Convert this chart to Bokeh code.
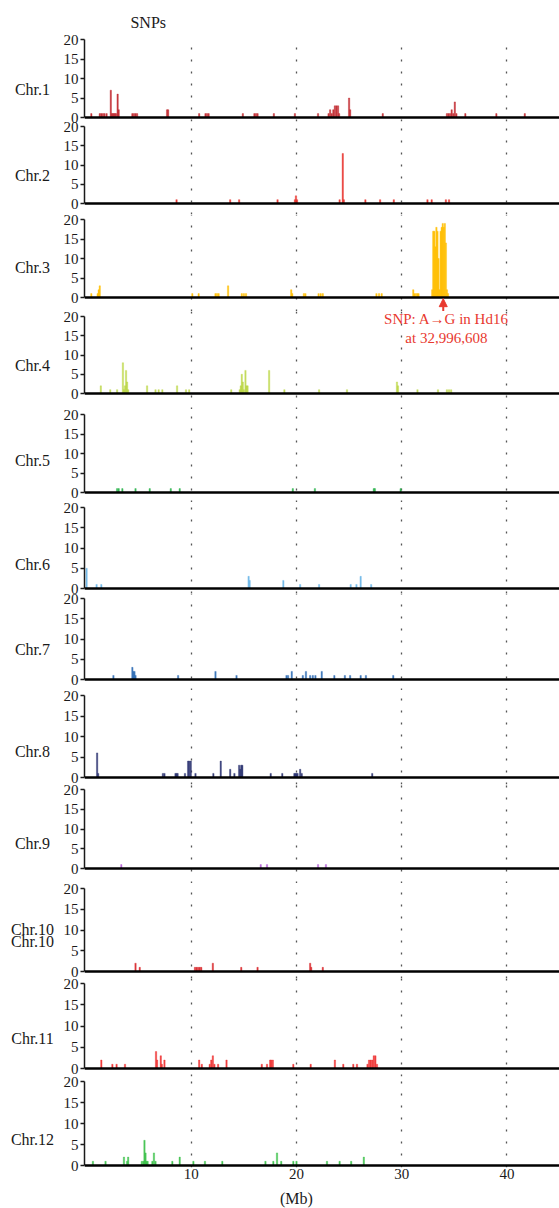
from bokeh.plotting import figure
from bokeh.layouts import column, row
from bokeh.models import Range1d, Span, Label, FixedTicker, Arrow, NormalHead, Grid, LinearAxis
from bokeh.embed import file_html
from bokeh.resources import INLINE

FONT = "Liberation Serif"

# ---------------- data (position in Mb, SNP count) ----------------
chr_names = ["Chr.1", "Chr.2", "Chr.3", "Chr.4", "Chr.5", "Chr.6",
             "Chr.7", "Chr.8", "Chr.9", "Chr.10", "Chr.11", "Chr.12"]

chr1_pos = [0.5, 1.3, 1.45, 1.6, 1.75, 1.95, 2.35, 2.45, 2.55, 2.65, 2.75, 2.85, 3.0, 3.1,
            4.4, 4.55, 4.7, 4.85, 7.7, 7.8, 10.75, 11.35, 11.5, 11.65, 14.9, 16.0, 16.15,
            16.3, 17.85, 19.85, 22.05, 23.05, 23.2, 23.35, 23.5, 23.65, 23.8, 23.95, 24.05,
            25.0, 25.1, 28.2, 34.3, 34.45, 34.6, 34.75, 34.9, 35.05, 35.2, 36.05, 39.0, 41.7]
chr1_snps = [1, 1, 1, 1, 1, 1, 7, 1, 1, 1, 1, 1, 6, 2,
             1, 1, 1, 1, 2, 2, 1, 1, 1, 1, 1, 1, 1,
             1, 1, 1, 1, 1, 2, 1, 2, 3, 3, 3, 1,
             5, 2, 1, 1, 1, 1, 2, 1, 4, 1, 1, 1, 1]

chr2_pos = [8.6, 13.7, 14.55, 18.2, 19.85, 19.95, 20.05, 24.1, 24.4, 24.5, 26.55, 27.95,
            29.25, 32.45, 32.85, 34.2, 34.5]
chr2_snps = [1, 1, 1, 1, 1, 2, 1, 1, 13, 1, 1, 1, 1, 1, 1, 1, 1]

chr3_pos = [0.5, 1.1, 1.2, 1.3, 10.1, 10.7, 12.3, 12.45, 12.6, 13.5, 14.8, 15.0, 15.2,
            19.5, 19.6, 20.7, 20.85, 22.1, 22.3, 22.5, 27.6, 27.85, 28.1, 31.1, 31.2,
            31.35, 31.5, 31.6,
            32.9, 33.0, 33.1, 33.2, 33.3, 33.4, 33.5, 33.6, 33.7, 33.8, 33.9, 34.0, 34.1,
            34.2, 34.3, 34.4]
chr3_snps = [1, 1, 2, 3, 1, 1, 1, 1, 1, 3, 1, 1, 1,
             2, 1, 1, 1, 1, 1, 1, 1, 1, 1, 2, 1,
             1, 1, 1,
             2, 17, 17, 13, 18, 17, 10, 2, 17, 18, 19, 18, 19,
             14, 2, 1]

chr4_pos = [1.4, 2.3, 2.95, 3.5, 3.6, 3.7, 3.8, 3.9, 4.0, 5.8, 6.6, 6.9, 7.25, 8.65, 9.5,
            9.8, 13.8, 14.6, 14.7, 14.8, 14.9, 15.0, 15.15, 15.25, 15.35, 17.4, 18.85,
            22.15, 24.8, 29.55, 29.65, 31.5, 33.45, 34.3, 34.5, 34.7]
chr4_snps = [2, 1, 1, 8, 1, 2, 6, 3, 1, 2, 1, 1, 1, 2, 1,
             1, 1, 1, 2, 5, 3, 1, 6, 2, 2, 6, 1,
             1, 1, 3, 2, 1, 1, 1, 1, 1]

chr5_pos = [2.95, 3.1, 3.45, 4.7, 6.05, 8.05, 8.9, 19.65, 21.75, 27.35, 27.45, 29.9]
chr5_snps = [1, 1, 1, 1, 1, 1, 1, 1, 1, 1, 1, 1]

chr6_pos = [0.05, 1.0, 1.45, 15.45, 15.55, 18.75, 20.35, 22.15, 25.15, 25.7, 26.1, 27.1]
chr6_snps = [5, 1, 1, 3, 2, 2, 1, 1, 1, 1, 3, 1]

chr7_pos = [2.6, 4.4, 4.5, 4.6, 4.7, 8.75, 12.3, 14.3, 19.05, 19.2, 19.55, 20.6, 20.9,
            21.3, 21.55, 21.8, 22.4, 23.6, 24.6, 25.1, 26.1, 26.6, 29.2]
chr7_snps = [1, 3, 2, 2, 1, 1, 2, 1, 1, 1, 2, 1, 2,
             1, 1, 1, 2, 1, 1, 1, 1, 1, 1]

chr8_pos = [1.05, 1.15, 7.3, 7.45, 8.5, 8.6, 8.7, 9.4, 9.7, 9.8, 9.95, 10.4, 12.1, 12.8,
            13.7, 14.1, 14.55, 14.65, 14.75, 14.85, 17.55, 18.65, 19.8, 19.9, 20.0, 20.1,
            20.35, 20.5, 27.2]
chr8_snps = [6, 1, 1, 1, 1, 1, 1, 1, 4, 4, 4, 1, 1, 4,
             2, 1, 3, 2, 3, 3, 1, 1, 1, 1, 1, 1,
             2, 1, 1]

chr9_pos = [3.35, 16.6, 17.2, 22.05, 22.8]
chr9_snps = [1, 1, 1, 1, 1]

chr10_pos = [4.7, 5.1, 10.35, 10.5, 10.65, 10.8, 10.95, 12.05, 14.75, 16.3, 21.3, 21.4, 22.5]
chr10_snps = [2, 1, 1, 1, 1, 1, 1, 2, 1, 1, 2, 1, 1]

chr11_pos = [1.45, 2.5, 2.9, 3.7, 6.65, 6.75, 7.1, 7.2, 7.45, 10.75, 11.0, 11.75, 11.9,
             12.05, 12.2, 12.55, 13.35, 16.7, 17.2, 17.5, 17.6, 17.75, 19.7, 21.35, 23.65,
             24.45, 25.4, 25.75, 26.75, 26.9, 27.05, 27.2, 27.35, 27.5, 27.65]
chr11_snps = [2, 1, 1, 1, 4, 2, 3, 1, 2, 2, 1, 1, 2,
              3, 1, 1, 2, 1, 1, 2, 2, 2, 1, 1, 2,
              1, 1, 1, 1, 2, 2, 2, 3, 3, 1]

chr12_pos = [0.65, 1.85, 3.6, 3.9, 4.0, 5.3, 5.45, 5.55, 5.65, 5.75, 5.85, 6.3, 6.45, 6.6,
             8.2, 8.9, 10.2, 11.3, 12.95, 17.05, 17.8, 18.15, 18.55, 19.7, 20.0, 22.9,
             24.1, 25.2, 26.4]
chr12_snps = [1, 1, 2, 1, 2, 1, 1, 6, 3, 1, 1, 1, 3, 1,
              1, 2, 1, 1, 1, 1, 1, 3, 1, 1, 1, 1,
              1, 1, 2]

positions = [chr1_pos, chr2_pos, chr3_pos, chr4_pos, chr5_pos, chr6_pos,
             chr7_pos, chr8_pos, chr9_pos, chr10_pos, chr11_pos, chr12_pos]
counts = [chr1_snps, chr2_snps, chr3_snps, chr4_snps, chr5_snps, chr6_snps,
          chr7_snps, chr8_snps, chr9_snps, chr10_snps, chr11_snps, chr12_snps]

colors = ["#c1272d", "#e8302a", "#ffbf00", "#b5d334", "#2bb24c", "#6cb7e8",
          "#2f6db5", "#2b3270", "#b45fd6", "#d9262b", "#ee2d2d", "#3cc14a"]

y_ticks = [0, 5, 10, 15, 20]
x_ticks = [10, 20, 30, 40]
y_label = "SNPs"
x_label = "(Mb)"
snp_annot_lines = ["SNP: A\u2192G in Hd16", "at 32,996,608"]
annot_x = 33.95          # arrow position (Mb), as drawn
annot_text_x = 34.25
annot_text_y = [19.3, 14.4]

# ---------------- layout constants (pixels) ----------------
W = 559
LAB_W = 56               # column holding the "Chr.N" names
LEFT = 84                # frame left edge on the page
HEAD_H = 33
FOOT_H = 18
PAD = 10                 # room kept above/below a panel for its tick labels
X_START, X_END = -0.15, 45.0
panel_top = [39, 126, 219, 316, 414, 507, 598, 695, 789, 888, 983, 1081]
panel_base = [117, 203, 297, 393, 492, 588, 679, 777, 868, 971, 1068, 1165]
chr_label_y = [7.1, 7.35, 7.7, 7.35, 8.2, 5.9, 7.5, 6.4, 6.3, 10.1, 7.0, 6.1]
chr10_dup_y = 7.3
ARROW_PX = 14

RED = "#e8392f"
INK = "#1a1a1a"


def blank(width, height, xr, yr, **kw):
    f = figure(width=width, height=height, x_range=xr, y_range=yr, title=None,
               x_axis_location=None, y_axis_location=None,
               toolbar_location=None, output_backend="svg",
               outline_line_color=None, background_fill_color=None,
               border_fill_color=None, **kw)
    f.grid.visible = False
    return f


def text_label(x, y, t, color=INK, size="16px", align="center"):
    return Label(x=x, y=y, text=t, text_align=align, text_baseline="middle",
                 text_font=FONT, text_font_size=size, text_color=color)


# header with the y-axis title
head = blank(W, HEAD_H, Range1d(0, W), Range1d(0, HEAD_H),
             min_border_left=0, min_border_right=0, min_border_top=0, min_border_bottom=0)
head.add_layout(text_label(75, HEAD_H - 21.5, y_label))

rows = [head]
x_range = Range1d(X_START, X_END)
n = len(chr_names)
prev_bot = HEAD_H
for i in range(n):
    top, base = panel_top[i], panel_base[i]
    ppu = (base - top) / 20.0
    fig_top = top - PAD
    frame_top = top if i == 0 else top - 5
    if i < n - 1:
        frame_bot = panel_top[i + 1] - 5
        fig_bot = max(base + PAD, frame_bot)
    else:
        frame_bot = base + 2
        fig_bot = 1208 - FOOT_H
    y0 = -(frame_bot - base) / ppu
    y1 = 20 + (top - frame_top) / ppu
    bt = frame_top - fig_top
    bb = fig_bot - frame_bot
    h = fig_bot - fig_top

    p = figure(width=W - LAB_W, height=h, x_range=x_range,
               y_range=Range1d(y0, y1), title=None,
               x_axis_location=None, y_axis_location="left",
               toolbar_location=None, output_backend="svg",
               min_border_left=LEFT - LAB_W, min_border_right=0,
               min_border_top=bt, min_border_bottom=bb,
               outline_line_color=None, background_fill_color=None,
               border_fill_color=None)
    p.grid.visible = False
    g = Grid(dimension=0, ticker=FixedTicker(ticks=x_ticks),
             grid_line_color="#555555", grid_line_width=1.3, grid_line_dash="2 10")
    p.add_layout(g, "center")

    ya = p.yaxis[0]
    ya.ticker = FixedTicker(ticks=y_ticks)
    ya.bounds = (0, 20)
    ya.axis_line_width = 1.5
    ya.axis_line_color = INK
    ya.major_tick_line_width = 1.5
    ya.major_tick_line_color = INK
    ya.major_tick_in = 0
    ya.major_tick_out = 4
    ya.minor_tick_line_color = None
    ya.major_label_standoff = 2
    ya.major_label_text_font = FONT
    ya.major_label_text_font_size = "15px"
    ya.major_label_text_color = INK

    p.vbar(x=positions[i], top=counts[i], bottom=0, width=0.13,
           fill_color=colors[i], line_color=colors[i], line_width=0.4,
           fill_alpha=0.9 if i != 3 else 0.75, line_alpha=0.9 if i != 3 else 0.75)

    p.add_layout(Span(location=0, dimension="width", line_color="black", line_width=2.5))

    if i == 2:
        p.add_layout(Arrow(end=NormalHead(size=8, fill_color=RED, line_color=RED),
                           x_start=annot_x, y_start=-ARROW_PX / ppu, x_end=annot_x, y_end=-0.3,
                           line_color=RED, line_width=2))
    if i == 3:
        for t, yy in zip(snp_annot_lines, annot_text_y):
            p.add_layout(text_label(annot_text_x, yy, t, color=RED, size="15px"))
    if i == n - 1:
        xa = LinearAxis(ticker=FixedTicker(ticks=x_ticks), axis_line_color=None,
                        major_tick_line_color=None, minor_tick_line_color=None,
                        major_tick_in=0, major_tick_out=0,
                        major_label_standoff=1, major_label_text_font=FONT,
                        major_label_text_font_size="15px", major_label_text_color=INK)
        p.add_layout(xa, "below")

    # chromosome name column
    lab = blank(LAB_W, h, Range1d(0, LAB_W), Range1d(y0, y1),
                min_border_left=0, min_border_right=0, min_border_top=bt, min_border_bottom=bb)
    lab.add_layout(text_label(32, chr_label_y[i], chr_names[i]))
    if chr_names[i] == "Chr.10":
        lab.add_layout(text_label(32, chr10_dup_y, chr_names[i]))

    rows.append(row(lab, p, spacing=0, margin=(fig_top - prev_bot, 0, 0, 0)))
    prev_bot = fig_bot

# footer with the x-axis title
foot = blank(W, FOOT_H, x_range, Range1d(0, FOOT_H),
             min_border_left=LEFT, min_border_right=0, min_border_top=0, min_border_bottom=0)
foot.add_layout(text_label(20, FOOT_H - 8, x_label))
rows.append(foot)

layout = column(*rows, spacing=0)
open("out.html", "w").write(file_html(layout, INLINE))
